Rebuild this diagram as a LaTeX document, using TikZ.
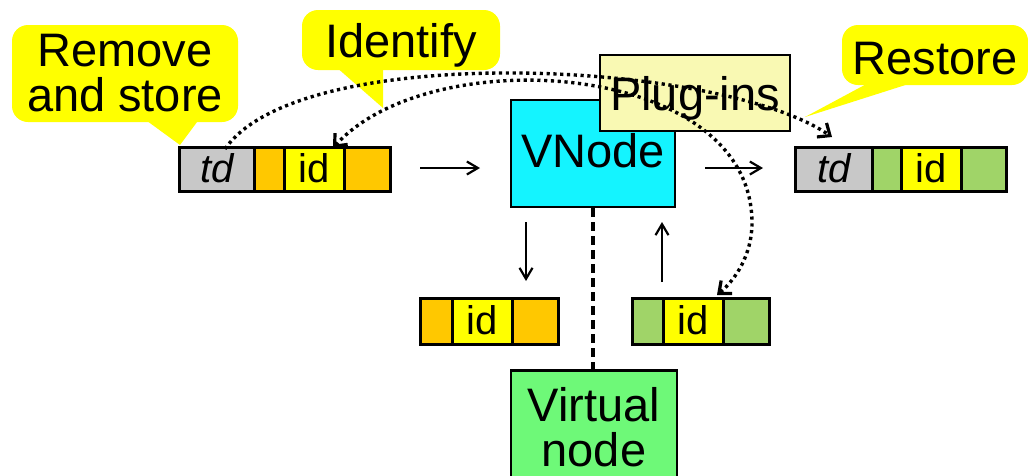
\documentclass[tikz,border=0pt]{standalone}
\usepackage{fontspec}
\setmainfont{Liberation Sans}
\usetikzlibrary{arrows.meta}
\definecolor{cyanbox}{HTML}{14F4FF}
\definecolor{plugbox}{HTML}{F9F9B3}
\definecolor{orangecell}{HTML}{FFC800}
\definecolor{greencell}{HTML}{A0D468}
\definecolor{greycell}{HTML}{C8C8C8}
\definecolor{virtbox}{HTML}{6EF978}
\definecolor{callyellow}{HTML}{FFFF00}
\tikzset{
  dottip/.tip={Straight Barb[length=10pt,width=17pt,line width=3.2pt]},
  flowtip/.tip={Straight Barb[length=11pt,width=13pt,line width=2.2pt]}
}
\begin{document}
\begin{tikzpicture}[x=1pt,y=-1pt,
  big/.style={font=\fontsize{47}{45}\selectfont},
  callout/.style={fill=callyellow, rounded corners=16pt, inner sep=0pt, big},
  box/.style={draw, line width=2.8pt, inner sep=0pt, big},
  cell/.style={draw, line width=2.8pt, inner sep=0pt, anchor=north west,
    font=\fontsize{40}{40}\selectfont, text height=29pt, text depth=2pt},
  tdcell/.style={cell, fill=greycell, font=\fontsize{40}{40}\selectfont\itshape},
  ocell/.style={cell, fill=orangecell},
  gcell/.style={cell, fill=greencell},
  icell/.style={cell, fill=callyellow},
  flow/.style={line width=2pt, -flowtip},
  dots/.style={line width=3.4pt, dash pattern=on 3.2pt off 3.6pt}
]
\path[use as bounding box] (0,0) rectangle (1028,475);
\clip (0,0) rectangle (1028,475);
\fill[white] (0,0) rectangle (1028,475);

% callouts
\node[callout, minimum width=226pt, minimum height=97pt, align=center] (rem) at (125,73.5) {Remove\\and store};
\fill[callyellow] (143,118) -- (180,145) -- (200,118) -- cycle;
\node[callout, minimum width=198pt, minimum height=60pt, text height=34pt, text depth=0pt] (idf) at (401,40) {Identify};
\fill[callyellow] (335,66) -- (383,108) -- (383,66) -- cycle;
\node[callout, minimum width=186pt, minimum height=60pt, text height=39pt, text depth=0pt] (res) at (935,55) {Restore};
\fill[callyellow] (872,81) -- (805,117) -- (918,81) -- cycle;

% left packet
\node[tdcell, minimum width=75pt, minimum height=44pt] (ltd) at (178,146) {td};
\node[ocell, minimum width=30pt, minimum height=44pt] (lo1) at (253,146) {};
\node[icell, minimum width=60pt, minimum height=44pt] (lid) at (283,146) {id};
\node[ocell, minimum width=46pt, minimum height=44pt] (lo2) at (343,146) {};

% right packet
\node[tdcell, minimum width=77pt, minimum height=44pt] (rtd) at (794,146) {td};
\node[gcell, minimum width=29pt, minimum height=44pt] (rg1) at (871,146) {};
\node[icell, minimum width=60pt, minimum height=44pt] (rid) at (900,146) {id};
\node[gcell, minimum width=45pt, minimum height=44pt] (rg2) at (960,146) {};

% bottom-left packet
\node[ocell, minimum width=32pt, minimum height=46pt] (bo1) at (419,297) {};
\node[icell, minimum width=60pt, minimum height=46pt] (bid) at (451,297) {id};
\node[ocell, minimum width=46pt, minimum height=46pt] (bo2) at (511,297) {};

% bottom-right packet
\node[gcell, minimum width=31pt, minimum height=46pt] (cg1) at (631,297) {};
\node[icell, minimum width=60pt, minimum height=46pt] (cid) at (662,297) {id};
\node[gcell, minimum width=46pt, minimum height=46pt] (cg2) at (722,297) {};

% VNode, plug-ins, virtual node
\node[box, fill=cyanbox, minimum width=164pt, minimum height=107pt, text height=34pt, text depth=7pt] (vn) at (593,153.5) {VNode};
\node[box, fill=plugbox, minimum width=190pt, minimum height=76pt, text height=34pt, text depth=0pt] (plug) at (695,93) {Plug-ins};
\node[box, fill=virtbox, minimum width=166pt, minimum height=113pt, align=center] (vir) at (594,427) {Virtual\\node};
\draw[line width=3.2pt, dash pattern=on 9pt off 5pt] (vn.south) -- (vn.south |- vir.north);

% solid arrows
\coordinate (a1s) at (420,168); \coordinate (a1e) at (480,168);
\coordinate (a2s) at (705,168); \coordinate (a2e) at (763,168);
\coordinate (a3s) at (526,222); \coordinate (a3e) at (526,281);
\coordinate (a4s) at (662,282); \coordinate (a4e) at (662,222);
\draw[flow] (a1s) -- (a1e);
\draw[flow] (a2s) -- (a2e);
\draw[flow] (a3s) -- (a3e);
\draw[flow] (a4s) -- (a4e);

% dotted curves
\coordinate (d1s) at (225,149);
\coordinate (d1e) at (832,137);
\draw[dots, -dottip] (d1s) .. controls (300,40) and (720,60) .. (d1e);
\coordinate (d2s) at (333,148);
\coordinate (d2m) at (752,223);
\coordinate (d2e) at (717,295);
\draw[dots, dottip-dottip] (d2s) .. controls (430,40) and (752,60) .. (d2m) .. controls (752,255) and (735,280) .. (d2e);
\end{tikzpicture}
\end{document}
